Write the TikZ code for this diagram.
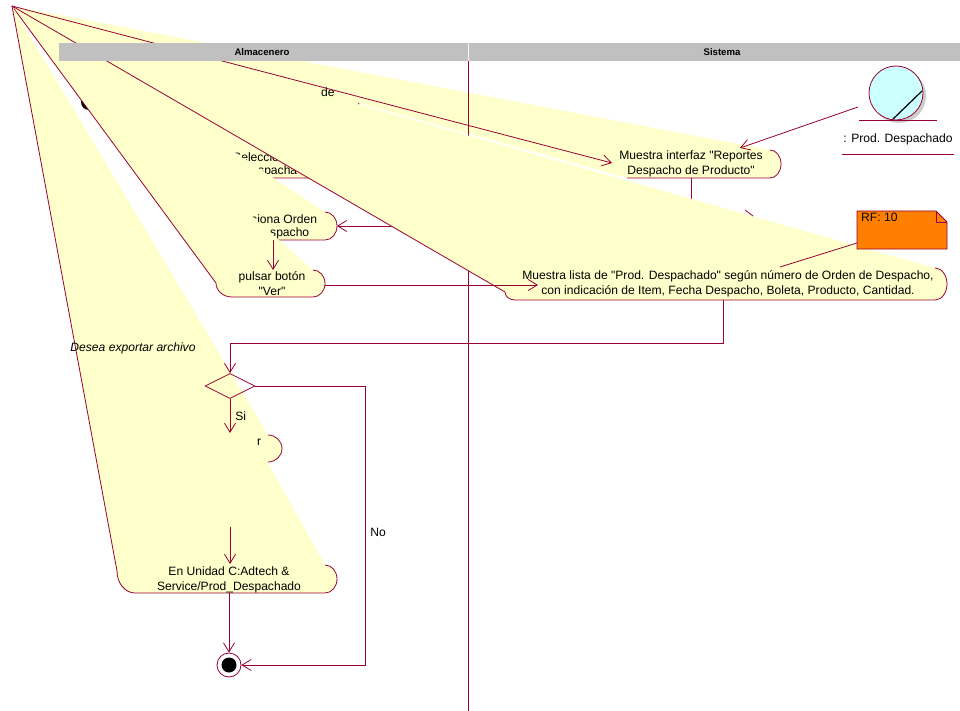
\documentclass[tikz,border=0pt]{standalone}
\usepackage{fontspec}
\setmainfont{Liberation Sans}[Ligatures=TeXOff]
\usetikzlibrary{arrows.meta, positioning, calc, shapes.geometric}

\definecolor{roseline}{RGB}{153,0,51}
\definecolor{roseyellow}{RGB}{255,255,204}
\definecolor{lanegray}{RGB}{192,192,192}
\definecolor{noteorange}{RGB}{255,128,0}
\definecolor{entitycyan}{RGB}{204,255,255}

\begin{document}
\begin{tikzpicture}[x=1pt, y=-1pt, >={Straight Barb[length=9pt,width=11pt]},
    every node/.style={inner sep=0pt, font=\fontsize{12.1}{15}\selectfont},
    edge/.style={draw=roseline, line width=0.8pt},
    flow/.style={edge, ->},
    fan/.style={fill=roseyellow},
    frag/.style={anchor=west},
    lanehead/.style={font=\fontsize{9.6}{11}\selectfont\bfseries}]

    \useasboundingbox (0,0) rectangle (960,711);
    \fill[white] (0,0) rectangle (960,711);

    \coordinate (apex) at (12,6);

    % Almacenero: first activity
    \coordinate (a1tr) at (350,86);
    \coordinate (a1bl) at (200,110);
    \fill[fan] (apex) -- (a1tr) arc[start angle=-90, end angle=90, x radius=10, y radius=12] -- (a1bl) -- cycle;
    \draw[edge] (a1tr) arc[start angle=-90, end angle=90, x radius=10, y radius=12];

    % Almacenero: second activity
    \coordinate (a2tr) at (330,148);
    \coordinate (a2bl) at (200,178);
    \fill[fan] (apex) -- (a2tr) arc[start angle=-90, end angle=90, x radius=11, y radius=15] -- (a2bl) -- cycle;
    \draw[edge] (a2tr) arc[start angle=-90, end angle=90, x radius=11, y radius=15] -- (a2bl);
    \node (a2top) [frag] at (233,157) {Seleccio};
    \node (a2bot) [frag] at (258,171) {spacha};

    % Initial state
    \node (start) [circle, fill=black, minimum size=16pt] at (89,102) {};

    % Selecciona Orden
    \coordinate (a3tr) at (325,212);
    \coordinate (a3bl) at (230,240);
    \fill[fan] (apex) -- (a3tr) arc[start angle=-90, end angle=90, x radius=12, y radius=14] -- (a3bl) -- cycle;
    \draw[edge] (a3tr) arc[start angle=-90, end angle=90, x radius=12, y radius=14] -- (a3bl);
    \node (a3top) [frag] at (251,219) {ciona Orden};
    \node (a3bot) [frag] at (270,233) {spacho};

    % pulsar boton
    \coordinate (a4tr) at (313,270);
    \coordinate (a4bl) at (232,297);
    \fill[fan] (apex) -- (a4tr) arc[start angle=-90, end angle=90, x radius=12, y radius=13.5] -- (a4bl) arc[start angle=90, end angle=180, x radius=16, y radius=14] -- cycle;
    \draw[edge] (a4tr) arc[start angle=-90, end angle=90, x radius=12, y radius=13.5] -- (a4bl) arc[start angle=90, end angle=180, x radius=16, y radius=14] -- (apex);

    % Sistema: interfaz
    \coordinate (mitr) at (770,150);
    \coordinate (mibl) at (627,178);
    \fill[fan] (apex) -- (mitr) arc[start angle=-90, end angle=90, x radius=11, y radius=14] -- (mibl) -- cycle;
    \draw[edge] (mitr) arc[start angle=-90, end angle=90, x radius=11, y radius=14] -- (mibl);

    % Lane border
    \coordinate (lanetop) at (468,61);
    \coordinate (lanebot) at (468,711);
    \draw[edge] (lanetop) -- (lanebot);

    % Sistema -> Selecciona Orden
    \coordinate (miout) at (691,178);
    \coordinate (a3in) at (337,226);
    \draw[flow] (miout) |- (a3in);

    % Sistema: lista
    \coordinate (mltr) at (935,268);
    \coordinate (mlbl) at (515,300);
    \fill[fan] (apex) -- (mltr) arc[start angle=-90, end angle=90, x radius=12, y radius=16] -- (mlbl) arc[start angle=90, end angle=180, x radius=10, y radius=8] -- cycle;
    \draw[edge] (mltr) arc[start angle=-90, end angle=90, x radius=12, y radius=16] -- (mlbl) arc[start angle=90, end angle=180, x radius=10, y radius=8] -- (apex);

    % Exportar
    \coordinate (extr) at (268,435);
    \coordinate (exbl) at (180,462);
    \fill[fan] (apex) -- (extr) arc[start angle=-90, end angle=90, x radius=14, y radius=13.5] -- (exbl) -- cycle;
    \draw[edge] (extr) arc[start angle=-90, end angle=90, x radius=14, y radius=13.5];

    % En Unidad
    \coordinate (eutr) at (325,565);
    \coordinate (eubl) at (135,593);
    \fill[fan] (apex) -- (eutr) arc[start angle=-90, end angle=90, x radius=12, y radius=14] -- (eubl) arc[start angle=90, end angle=180, x radius=18, y radius=22] -- cycle;
    \draw[edge] (eutr) arc[start angle=-90, end angle=90, x radius=12, y radius=14] -- (eubl) arc[start angle=90, end angle=180, x radius=18, y radius=22] -- (apex);

    % Texts of the activities
    \node (mitext) [align=center] at (691,164) {Muestra interfaz "Reportes\\Despacho de Producto"};
    \node (mltext) [align=center] at (728,284) {Muestra lista de "Prod. Despachado" según número de Orden de Despacho,\\con indicación de Item, Fecha Despacho, Boleta, Producto, Cantidad.};
    \node (a4text) [align=center] at (272,284) {pulsar botón\\"Ver"};
    \node (eutext) [align=center] at (229,580) {En Unidad C:Adtech \&\\Service/Prod\_Despachado};
    \node (a1frag) [frag] at (321,92) {de};
    \node (exfrag) [frag] at (257,442) {r};

    % Entity object
    \fill[black!20] (899,96) circle[radius=27];
    \node (entity) [circle, draw=roseline, fill=entitycyan, line width=0.8pt, minimum size=54pt] at (896,93) {};
    \coordinate (ticka) at (893,119);
    \coordinate (tickb) at (922,91);
    \draw[black, line width=1.2pt] (ticka) -- (tickb);
    \coordinate (entl) at (859,120);
    \coordinate (entr) at (937,120);
    \draw[edge] (entl) -- (entr);
    \node (entname) at (898,139) {: Prod. Despachado};
    \coordinate (namel) at (842,154);
    \coordinate (namer) at (954,154);
    \draw[edge] (namel) -- (namer);

    % Note
    \coordinate (nw) at (857,211);
    \coordinate (nf) at (936,211);
    \coordinate (nc) at (947,222);
    \coordinate (nse) at (947,249);
    \coordinate (nsw) at (857,249);
    \filldraw[fill=noteorange, edge] (nw) -- (nf) -- (nc) -- (nse) -- (nsw) -- cycle;
    \draw[edge] (nf) |- (nc);
    \node (rf) [anchor=north west] at (861,213) {RF: 10};

    % Transitions
    \coordinate (miin) at (612,163);
    \draw[flow] (apex) -- (miin);
    \coordinate (entout) at (858,107);
    \coordinate (mitop) at (740,148);
    \draw[flow] (entout) -- (mitop);
    \coordinate (noteanc) at (857,243);
    \coordinate (mlanc) at (780,267);
    \draw[edge] (noteanc) -- (mlanc);
    \coordinate (a3out) at (273,240);
    \coordinate (a4in) at (273,270);
    \draw[flow] (a3out) -- (a4in);
    \coordinate (a4out) at (325,285);
    \coordinate (mlin) at (538,285);
    \draw[flow] (a4out) -- (mlin);
    \coordinate (hida) at (745,210);
    \coordinate (hidb) at (753,216);
    \draw[edge] (hida) -- (hidb);

    % Decision
    \node (dec) [diamond, draw=roseline, line width=0.8pt, minimum width=50pt, minimum height=25pt] at (230,386) {};
    \coordinate (mlout) at (723,300);
    \coordinate (bend) at (723,343);
    \draw[flow] (mlout) -- (bend) -| (dec.north);
    \node (question) at (133,348) {\itshape Desea exportar archivo};

    % End state
    \node (fin) [circle, draw=roseline, fill=white, line width=0.8pt, minimum size=24pt] at (229,665) {};
    \node (finin) [circle, fill=black, minimum size=15pt] at (fin.center) {};

    \coordinate (exin) at (230,433);
    \draw[flow] (dec.south) -- (exin) node[pos=0.5, right=5pt] {Si};
    \coordinate (noturn) at (365,386);
    \draw[flow] (dec.east) -- (noturn) |- (fin.east);
    \node (nolabel) at (378,532) {No};
    \coordinate (hidout) at (230,527);
    \coordinate (euin) at (230,564);
    \draw[flow] (hidout) -- (euin);
    \coordinate (euout) at (229,593);
    \draw[flow] (euout) -- (fin.north);

    % Swimlane header
    \fill[lanegray] (59,43) rectangle (960,61);
    \draw[white!85!lanegray, line width=1pt] (468,43) -- (468,61);
    \node (almacenero) [lanehead] at (262,52) {Almacenero};
    \node (sistema) [lanehead] at (722,52) {Sistema};
\end{tikzpicture}
\end{document}
